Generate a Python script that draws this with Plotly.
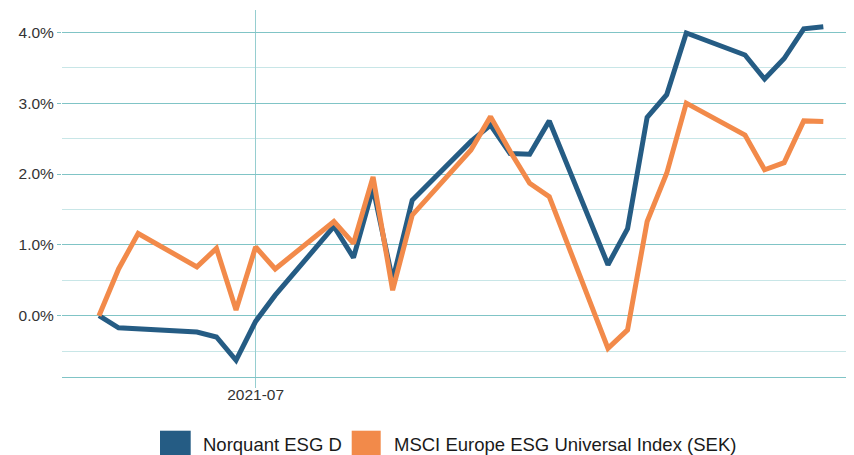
import plotly.graph_objects as go

dates = ["2021-06-23", "2021-06-24", "2021-06-25", "2021-06-28", "2021-06-29", "2021-06-30",
         "2021-07-01", "2021-07-02", "2021-07-05", "2021-07-06", "2021-07-07", "2021-07-08",
         "2021-07-09", "2021-07-12", "2021-07-13", "2021-07-14", "2021-07-15", "2021-07-16",
         "2021-07-19", "2021-07-20", "2021-07-21", "2021-07-22", "2021-07-23", "2021-07-26",
         "2021-07-27", "2021-07-28", "2021-07-29", "2021-07-30"]

fund_name = "Norquant ESG D"
fund = [0.00, -0.17, None, -0.23, -0.30, -0.63,
        -0.08, 0.29, 1.26, 0.82, 1.80, 0.50,
        1.63, 2.46, 2.69, 2.29, 2.28, 2.75,
        0.72, 1.23, 2.80, 3.12, 3.99, 3.68,
        3.34, 3.63, 4.05, 4.08]

index_name = "MSCI Europe ESG Universal Index (SEK)"
index = [0.00, 0.66, 1.16, 0.69, 0.95, 0.08,
         0.97, 0.66, 1.33, 1.02, 1.96, 0.36,
         1.42, 2.34, 2.81, 2.32, 1.87, 1.68,
         -0.46, -0.20, 1.33, 2.01, 3.00, 2.55,
         2.06, 2.16, 2.75, 2.74]

blue = "#255C84"
orange = "#F28A4A"
grid_major = "rgb(128,196,198)"
grid_minor = "rgb(200,230,231)"
grid_x = "rgb(150,206,208)"
font_family = "Liberation Sans, Arial, sans-serif"

fig = go.Figure()
fig.add_trace(go.Scatter(x=dates, y=fund, name=fund_name, mode="lines",
                         line=dict(color=blue, width=5), connectgaps=True))
fig.add_trace(go.Scatter(x=dates, y=index, name=index_name, mode="lines",
                         line=dict(color=orange, width=5), connectgaps=True))

# page has an 8px body margin: figure occupies (8,8)-(854,455)
fig.update_layout(
    width=846, height=447,
    margin=dict(l=54, r=0, t=2, b=78),
    paper_bgcolor="white", plot_bgcolor="white",
    showlegend=False,
    font=dict(family=font_family, size=16, color="#333333"),
    xaxis=dict(
        type="date",
        range=["2021-06-21 02:38", "2021-07-31 13:37"],
        tickvals=["2021-07-01"], ticktext=["2021-07"],
        showgrid=True, gridcolor=grid_x, gridwidth=1,
        ticks="outside", ticklen=10, tickcolor=grid_x,
        ticklabelstandoff=-7,
        showline=True, linecolor=grid_major, linewidth=1,
        zeroline=False,
        tickfont=dict(size=15.5, color="#333333"),
    ),
    yaxis=dict(
        range=[-0.865, 4.315],
        tickmode="linear", tick0=0, dtick=1,
        tickformat=".1f", ticksuffix="%",
        showgrid=True, gridcolor=grid_major, gridwidth=1,
        ticks="outside", ticklen=4, tickcolor=grid_major,
        zeroline=False, showline=False,
        tickfont=dict(size=15.5, color="#333333"),
        minor=dict(dtick=0.5, tick0=0, showgrid=True, gridcolor=grid_minor, gridwidth=1),
    ),
)

# manual legend (squares) at the bottom; page coords -> paper coords
def px(xp):
    return (xp - 62) / 792

def py(yp):
    return (377 - yp) / 367

legend_items = [(160, 190.7, 201, blue, fund_name), (351.7, 380.7, 392, orange, index_name)]
for x0, x1, tx, col, name in legend_items:
    fig.add_shape(type="rect", xref="paper", yref="paper",
                  x0=px(x0), x1=px(x1), y0=py(430.7), y1=py(462),
                  fillcolor=col, line=dict(width=0))
    fig.add_annotation(xref="paper", yref="paper", x=px(tx), y=py(444.5),
                       text=name, showarrow=False, xanchor="left", yanchor="middle",
                       font=dict(size=18.5, color="#1a1a1a", family=font_family))

fig.write_html("out.html")
